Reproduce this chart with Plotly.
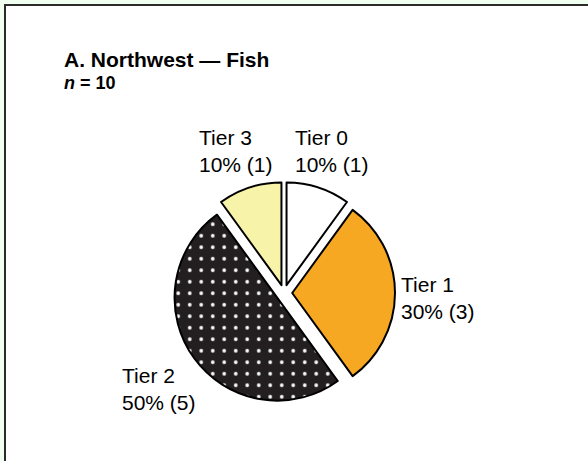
"""
Pie chart: sample distribution by tier, Northwest fish
"""

import numpy as np
import plotly.graph_objects as go

# Data
tiers = ['Tier 0', 'Tier 1', 'Tier 2', 'Tier 3']
counts = [1, 3, 5, 1]
slice_colors = ['#FFFFFF', '#F7A823', '#231F20', '#F7F3A9']
slice_patterns = ['', '', '.', '']

title_text = '<b>A. Northwest — Fish</b>'
subtitle_text = '<b><i>n</i> = 10</b>'

W, H = 588, 461
FONT = 'Liberation Sans, Arial, sans-serif'


def px_x(v):
    return v / W


def px_y(v):
    # pixels from top -> paper fraction from bottom
    return 1 - v / H


# pie centre and outer size (radius incl. pull), in pixels
cx, cy, half = 284, 293, 111
pull = 0.08
radius = half / (1 + pull)
label_dist = 1.5   # label centre, in radii from the pie centre
label_drop = 5     # small downward bias of the label block, px

fig = go.Figure()

fig.add_trace(
    go.Pie(
        labels=tiers,
        values=counts,
        sort=False,
        direction='clockwise',
        rotation=0,
        pull=pull,
        marker=dict(
            colors=slice_colors,
            line=dict(color='#000000', width=2),
            pattern=dict(shape=slice_patterns, fgcolor='#FFFFFF', bgcolor=slice_colors,
                         size=11.5, solidity=0.08, fillmode='replace'),
        ),
        textinfo='none',
        showlegend=False,
        hoverinfo='label+percent+value',
        domain=dict(x=[px_x(cx - half), px_x(cx + half)],
                    y=[px_y(cy + half), px_y(cy - half)]),
    )
)

# slice labels, placed along each slice's mid angle (clockwise from 12 o'clock)
total = sum(counts)
start = 0.0
for name, val in zip(tiers, counts):
    frac = val / total
    mid = 2 * np.pi * (start + frac / 2)
    start += frac
    lx = cx + label_dist * radius * np.sin(mid)
    ly = cy - label_dist * radius * np.cos(mid) + label_drop
    fig.add_annotation(
        text=f'{name}<br>{frac:.0%} ({val})',
        xref='paper', yref='paper', x=px_x(lx), y=px_y(ly),
        xanchor='center', yanchor='middle', align='left',
        showarrow=False, font=dict(family=FONT, size=21, color='#000000')
    )

# white panel with dark frame running off the page
fig.add_shape(
    type='rect', xref='paper', yref='paper',
    x0=px_x(5), x1=1.2, y0=-0.2, y1=px_y(5),
    line=dict(color='#2b2b2b', width=2),
    fillcolor='#FFFFFF', layer='below'
)

fig.add_annotation(
    text=title_text, xref='paper', yref='paper',
    x=px_x(62), y=px_y(46), xanchor='left', yanchor='top',
    showarrow=False, font=dict(family=FONT, size=21, color='#000000')
)
fig.add_annotation(
    text=subtitle_text, xref='paper', yref='paper',
    x=px_x(62), y=px_y(71), xanchor='left', yanchor='top',
    showarrow=False, font=dict(family=FONT, size=18, color='#000000')
)

fig.update_layout(
    width=W, height=H,
    margin=dict(l=0, r=0, t=0, b=0),
    paper_bgcolor='#F0FFF0',
    plot_bgcolor='#FFFFFF',
    font=dict(family=FONT, color='#000000'),
)

fig.write_html(
    "out.html",
    config={'displayModeBar': False},
    post_script="document.body.style.margin='0';document.body.style.background='#F0FFF0';"
)
